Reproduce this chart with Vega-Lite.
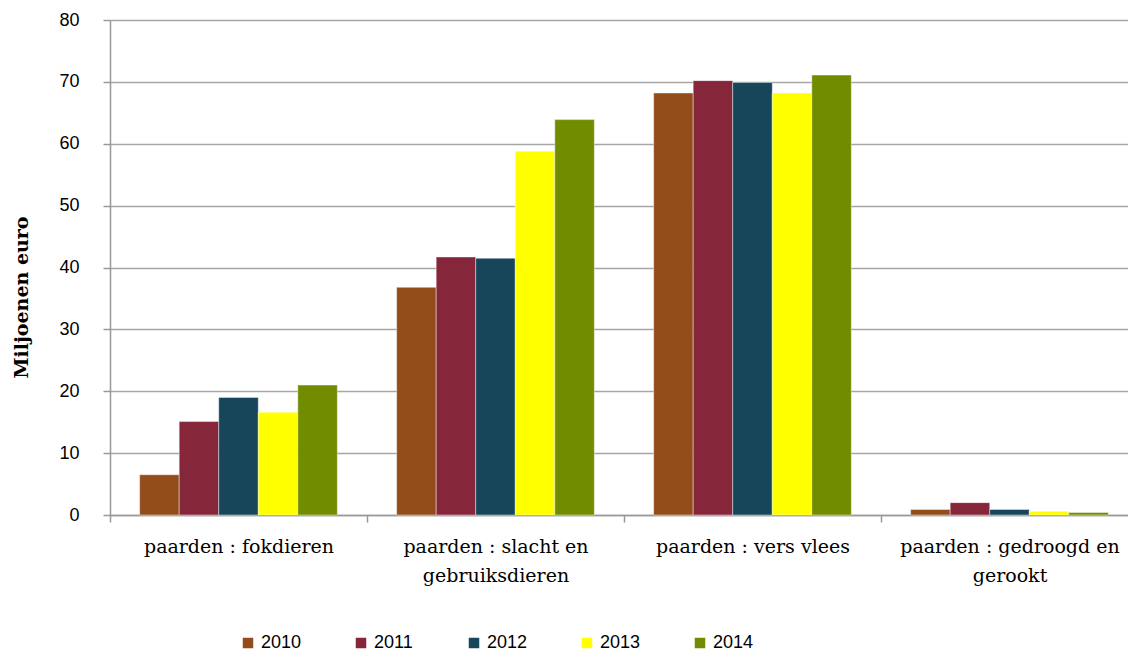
{
  "$schema": "https://vega.github.io/schema/vega-lite/v6.json",
  "autosize": "none",
  "padding": {"left": 110, "top": 20, "right": 0, "bottom": 138},
  "width": 1028,
  "height": 495,
  "background": "#ffffff",
  "config": {"view": {"stroke": null}},
  "data": {
    "values": [
      {"category": "paarden : fokdieren", "year": "2010", "value": 6.5},
      {"category": "paarden : fokdieren", "year": "2011", "value": 15.1},
      {"category": "paarden : fokdieren", "year": "2012", "value": 19.0},
      {"category": "paarden : fokdieren", "year": "2013", "value": 16.6},
      {"category": "paarden : fokdieren", "year": "2014", "value": 21.0},
      {"category": "paarden : slacht en gebruiksdieren", "year": "2010", "value": 36.8},
      {"category": "paarden : slacht en gebruiksdieren", "year": "2011", "value": 41.7},
      {"category": "paarden : slacht en gebruiksdieren", "year": "2012", "value": 41.5},
      {"category": "paarden : slacht en gebruiksdieren", "year": "2013", "value": 58.8},
      {"category": "paarden : slacht en gebruiksdieren", "year": "2014", "value": 63.9},
      {"category": "paarden : vers vlees", "year": "2010", "value": 68.2},
      {"category": "paarden : vers vlees", "year": "2011", "value": 70.2},
      {"category": "paarden : vers vlees", "year": "2012", "value": 69.9},
      {"category": "paarden : vers vlees", "year": "2013", "value": 68.2},
      {"category": "paarden : vers vlees", "year": "2014", "value": 71.1},
      {"category": "paarden : gedroogd en gerookt", "year": "2010", "value": 0.9},
      {"category": "paarden : gedroogd en gerookt", "year": "2011", "value": 2.0},
      {"category": "paarden : gedroogd en gerookt", "year": "2012", "value": 0.9},
      {"category": "paarden : gedroogd en gerookt", "year": "2013", "value": 0.6},
      {"category": "paarden : gedroogd en gerookt", "year": "2014", "value": 0.4}
    ]
  },
  "mark": {"type": "bar", "stroke": "#ffffff", "strokeWidth": 0.7, "strokeOpacity": 0.6},
  "encoding": {
    "x": {
      "field": "category",
      "type": "nominal",
      "sort": ["paarden : fokdieren", "paarden : slacht en gebruiksdieren", "paarden : vers vlees", "paarden : gedroogd en gerookt"],
      "scale": {"paddingInner": 0, "paddingOuter": 0},
      "axis": {
        "title": null,
        "labelAngle": 0,
        "tickBand": "extent",
        "tickSize": 7,
        "tickColor": "#999999",
        "tickWidth": 1.5,
        "domainColor": "#999999",
        "domainWidth": 1.5,
        "labelFont": "DejaVu Serif",
        "labelFontSize": 19,
        "labelColor": "#000000",
        "labelPadding": 15,
        "labelLineHeight": 29,
        "labelLimit": 300,
        "labelExpr": "datum.value == 'paarden : slacht en gebruiksdieren' ? ['paarden : slacht en', 'gebruiksdieren'] : datum.value == 'paarden : gedroogd en gerookt' ? ['paarden : gedroogd en', 'gerookt'] : datum.value"
      }
    },
    "xOffset": {
      "field": "year",
      "type": "nominal",
      "scale": {"paddingInner": 0, "paddingOuter": 0.75}
    },
    "y": {
      "field": "value",
      "type": "quantitative",
      "scale": {"domain": [0, 80], "nice": false},
      "axis": {
        "title": "Miljoenen euro",
        "titleFont": "DejaVu Serif",
        "titleFontWeight": "bold",
        "titleFontSize": 19,
        "titleColor": "#000000",
        "titleX": -89,
        "titleY": 277,
        "titleAngle": -90,
        "titleAlign": "center",
        "titleBaseline": "middle",
        "values": [0, 10, 20, 30, 40, 50, 60, 70, 80],
        "grid": true,
        "gridColor": "#a6a6a6",
        "gridWidth": 1.5,
        "tickSize": 7,
        "tickColor": "#999999",
        "tickWidth": 1.5,
        "domainColor": "#999999",
        "domainWidth": 1.5,
        "labelFont": "Liberation Sans",
        "labelFontSize": 18,
        "labelColor": "#000000",
        "labelPadding": 24
      }
    },
    "color": {
      "field": "year",
      "type": "nominal",
      "scale": {
        "domain": ["2010", "2011", "2012", "2013", "2014"],
        "range": ["#924d1b", "#86263a", "#17465a", "#ffff00", "#728c00"]
      },
      "legend": {
        "title": null,
        "orient": "none",
        "direction": "horizontal",
        "columns": 5,
        "legendX": 129,
        "legendY": 614,
        "padding": 0,
        "symbolType": "square",
        "symbolSize": 110,
        "symbolStrokeWidth": 0,
        "labelFont": "Liberation Sans",
        "labelFontSize": 18,
        "labelColor": "#000000",
        "labelOffset": 4,
        "columnPadding": 50,
        "gridAlign": "all"
      }
    }
  }
}
